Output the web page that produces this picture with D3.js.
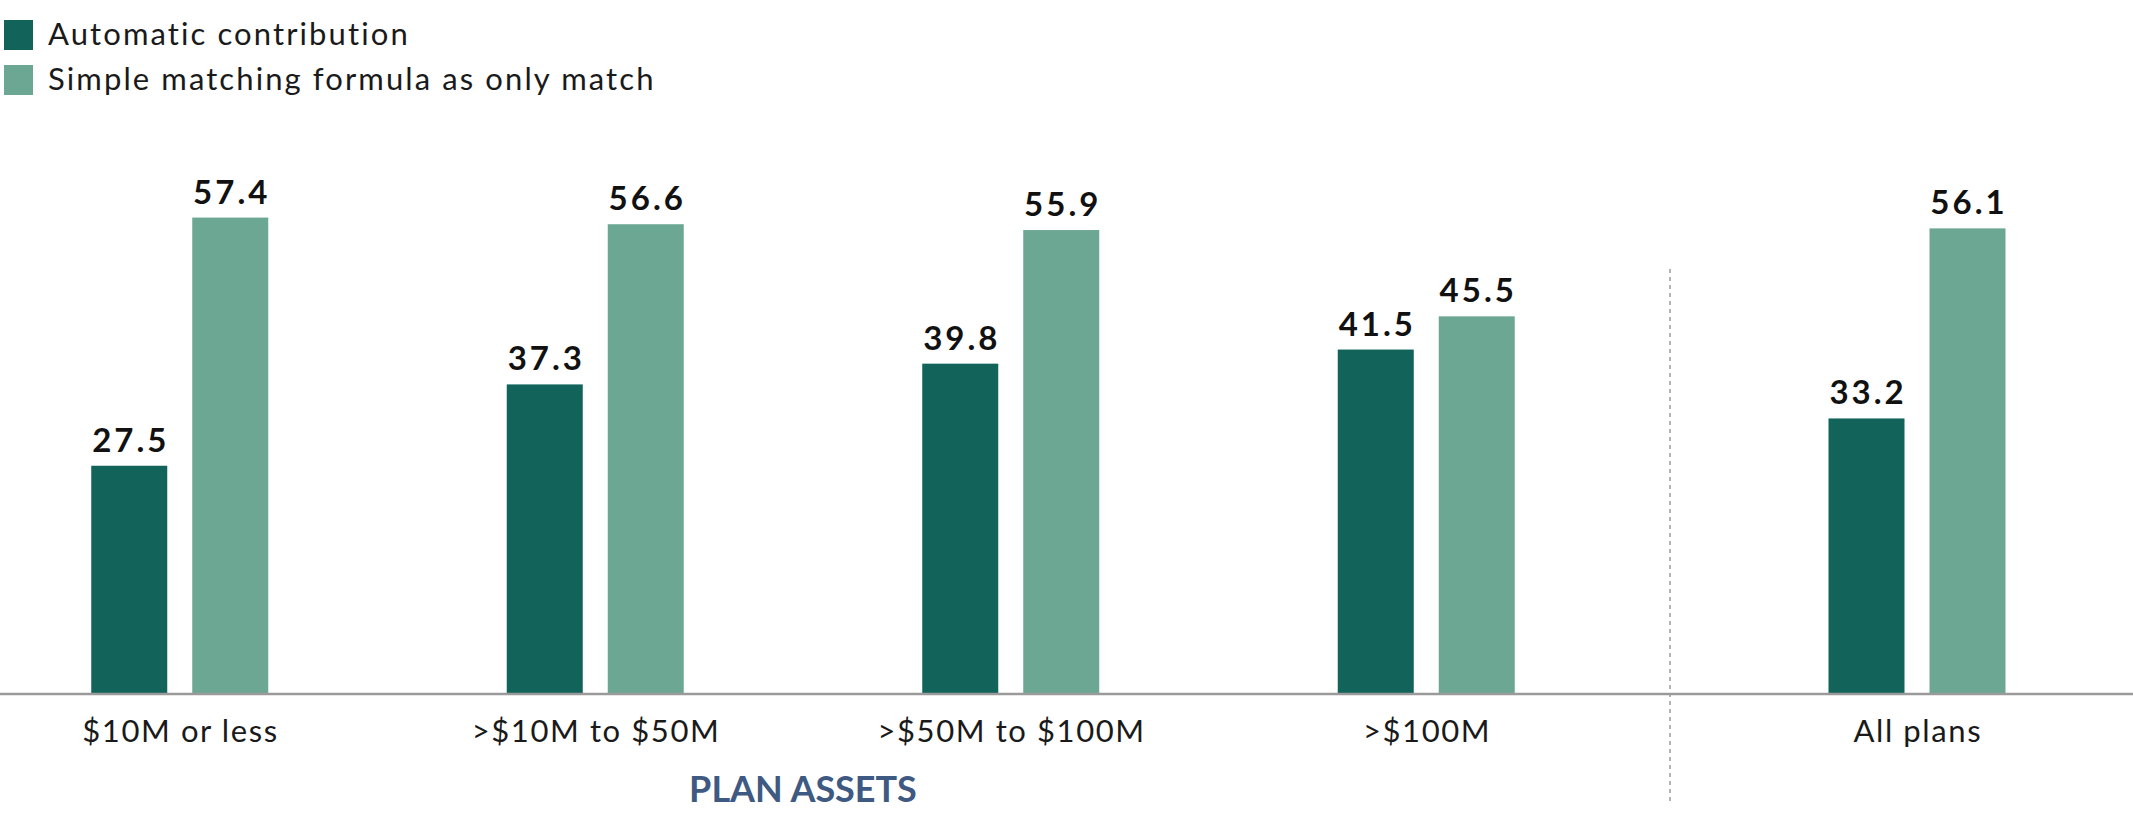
<!DOCTYPE html>
<html><head><meta charset="utf-8">
<script src="https://cdn.jsdelivr.net/npm/d3@7"></script>
<style>html,body{margin:0;padding:0;background:#fff;}svg{display:block;font-family:Lato,"Open Sans",sans-serif;font-variant-ligatures:none;}</style>
</head><body>
<script>
const categories = ["$10M or less", ">$10M to $50M", ">$50M to $100M", ">$100M"];
const totalCategory = ["All plans"];
const seriesNames = ["Automatic contribution", "Simple matching formula as only match"];
const automatic = [27.5, 37.3, 39.8, 41.5, 33.2];
const simpleMatch = [57.4, 56.6, 55.9, 45.5, 56.1];
const axisTitle = "PLAN ASSETS";

const W = 2133, H = 822;
const colors = ["#12635a", "#6ca793"];
const svg = d3.select("body").append("svg").attr("width", W).attr("height", H);

const allCats = categories.concat(totalCategory);
const rows = allCats.map((c, i) => ({cat: c, values: [automatic[i], simpleMatch[i]], total: i >= categories.length}));

const baseY = 694;
const y = d3.scaleLinear().domain([0, 70]).range([baseY, baseY - 581]);
const xMain = d3.scaleBand().domain(categories).range([-28, 1634]).padding(0);
const xTotal = d3.scaleBand().domain(totalCategory).range([1671, 2163]).padding(0);
const xc = d => (d.total ? xTotal(d.cat) + xTotal.bandwidth() / 2 : xMain(d.cat) + xMain.bandwidth() / 2);
const xInner = d3.scaleBand().domain([0, 1]).range([-88.5, 88.5]).paddingInner(25 / 101).paddingOuter(0);

// Legend
const leg = svg.append("g");
seriesNames.forEach((s, i) => {
  leg.append("rect").attr("x", 4).attr("y", 20 + i * 45).attr("width", 29).attr("height", 30).attr("fill", colors[i]);
  leg.append("text").attr("x", 48).attr("y", 45 + i * 45).attr("font-size", 31).attr("letter-spacing", 2.1)
    .attr("fill", "#1a1a1a").text(s);
});

// Bars
const g = svg.selectAll("g.grp").data(rows).enter().append("g").attr("class", "grp")
  .attr("transform", d => `translate(${xc(d)},0)`);
g.selectAll("rect").data(d => d.values.map((v, i) => ({v, i}))).enter().append("rect")
  .attr("x", d => xInner(d.i)).attr("width", xInner.bandwidth())
  .attr("y", d => y(d.v)).attr("height", d => baseY - y(d.v)).attr("fill", d => colors[d.i]);
g.selectAll("text.val").data(d => d.values.map((v, i) => ({v, i}))).enter().append("text").attr("class", "val")
  .attr("x", d => xInner(d.i) + xInner.bandwidth() / 2 + 1.5).attr("y", d => y(d.v) - 14)
  .attr("text-anchor", "middle").attr("font-size", 33).attr("font-weight", 700).attr("letter-spacing", 3)
  .attr("fill", "#111").text(d => d3.format(".1f")(d.v));

// Axis line
svg.append("line").attr("x1", 0).attr("x2", W).attr("y1", baseY).attr("y2", baseY)
  .attr("stroke", "#9a9a9a").attr("stroke-width", 2.5);

// Category labels
svg.selectAll("text.cat").data(rows).enter().append("text").attr("class", "cat")
  .attr("x", d => xc(d) + 0.8).attr("y", 742).attr("text-anchor", "middle")
  .attr("font-size", 31).attr("letter-spacing", 1.6).attr("fill", "#1a1a1a").text(d => d.cat);

// Separator between size groups and the overall total
svg.append("line").attr("x1", 1670).attr("x2", 1670).attr("y1", 269).attr("y2", 803)
  .attr("stroke", "#9a9a9a").attr("stroke-width", 1.5).attr("stroke-dasharray", "4,4");

// Axis title
svg.append("text").attr("x", (xc(rows[0]) + xc(rows[3])) / 2).attr("y", 802).attr("text-anchor", "middle")
  .attr("font-size", 36).attr("font-weight", 700).attr("fill", "#3f5a82").text(axisTitle);
</script>
</body></html>
